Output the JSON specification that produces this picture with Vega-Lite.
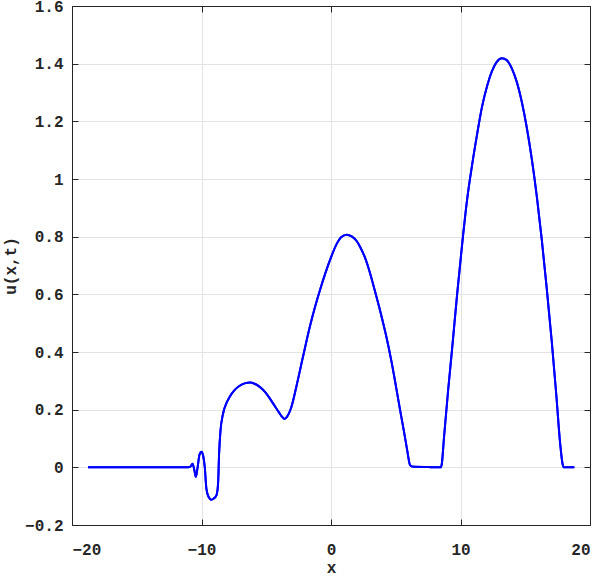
{
  "$schema": "https://vega.github.io/schema/vega-lite/v6.json",
  "width": 518,
  "height": 519,
  "autosize": {"type": "none"},
  "padding": {"left": 72, "top": 6, "right": 8, "bottom": 52},
  "background": "white",
  "config": {
    "view": {"stroke": "#262626", "strokeWidth": 1},
    "axis": {
      "labelFont": "Liberation Mono",
      "labelFontWeight": "bold",
      "labelFontSize": 16,
      "labelColor": "#262626",
      "titleFont": "Liberation Mono",
      "titleFontWeight": "bold",
      "titleFontSize": 16,
      "titleColor": "#262626",
      "domainColor": "#262626",
      "tickColor": "#262626",
      "tickSize": -6,
      "gridColor": "#e3e3e3",
      "gridWidth": 1
    }
  },
  "data": {"values": [
    {"x": -18.76, "u": 0},
    {"x": -15.0, "u": 0},
    {"x": -11.67, "u": 0},
    {"x": -11.03, "u": 0},
    {"x": -10.85, "u": 0.003},
    {"x": -10.69, "u": 0.012},
    {"x": -10.55, "u": -0.01},
    {"x": -10.44, "u": -0.033},
    {"x": -10.3, "u": 0.0},
    {"x": -10.15, "u": 0.045},
    {"x": -10.0, "u": 0.054},
    {"x": -9.87, "u": 0.04},
    {"x": -9.75, "u": 0.002},
    {"x": -9.62, "u": -0.075},
    {"x": -9.45, "u": -0.103},
    {"x": -9.25, "u": -0.112},
    {"x": -9.05, "u": -0.108},
    {"x": -8.84, "u": -0.096},
    {"x": -8.72, "u": -0.056},
    {"x": -8.64, "u": 0.049},
    {"x": -8.54, "u": 0.124},
    {"x": -8.34, "u": 0.185},
    {"x": -8.05, "u": 0.225},
    {"x": -7.82, "u": 0.245},
    {"x": -7.45, "u": 0.268},
    {"x": -7.05, "u": 0.283},
    {"x": -6.6, "u": 0.292},
    {"x": -6.28, "u": 0.294},
    {"x": -5.9, "u": 0.29},
    {"x": -5.5, "u": 0.279},
    {"x": -5.1, "u": 0.262},
    {"x": -4.74, "u": 0.24},
    {"x": -4.35, "u": 0.213},
    {"x": -3.98, "u": 0.188},
    {"x": -3.75, "u": 0.174},
    {"x": -3.6, "u": 0.168},
    {"x": -3.4, "u": 0.175},
    {"x": -3.09, "u": 0.205},
    {"x": -2.65, "u": 0.285},
    {"x": -2.19, "u": 0.378},
    {"x": -1.62, "u": 0.49},
    {"x": -1.24, "u": 0.555},
    {"x": -0.85, "u": 0.615},
    {"x": -0.46, "u": 0.67},
    {"x": 0.0, "u": 0.728},
    {"x": 0.44, "u": 0.775},
    {"x": 0.8, "u": 0.799},
    {"x": 1.21, "u": 0.807},
    {"x": 1.6, "u": 0.801},
    {"x": 1.98, "u": 0.785},
    {"x": 2.3, "u": 0.76},
    {"x": 2.62, "u": 0.728},
    {"x": 3.0, "u": 0.676},
    {"x": 3.39, "u": 0.612},
    {"x": 3.85, "u": 0.533},
    {"x": 4.25, "u": 0.458},
    {"x": 4.65, "u": 0.372},
    {"x": 5.02, "u": 0.28},
    {"x": 5.35, "u": 0.195},
    {"x": 5.66, "u": 0.118},
    {"x": 5.9, "u": 0.055},
    {"x": 6.1, "u": 0.008},
    {"x": 6.25, "u": 0.003},
    {"x": 7.5, "u": 0.001},
    {"x": 8.46, "u": 0.0},
    {"x": 8.55, "u": 0.01},
    {"x": 8.72, "u": 0.1},
    {"x": 9.05, "u": 0.27},
    {"x": 9.36, "u": 0.415},
    {"x": 9.75, "u": 0.605},
    {"x": 10.13, "u": 0.775},
    {"x": 10.5, "u": 0.925},
    {"x": 10.9, "u": 1.05},
    {"x": 11.3, "u": 1.16},
    {"x": 11.66, "u": 1.25},
    {"x": 12.05, "u": 1.322},
    {"x": 12.43, "u": 1.374},
    {"x": 12.8, "u": 1.406},
    {"x": 13.2, "u": 1.419},
    {"x": 13.55, "u": 1.413},
    {"x": 13.97, "u": 1.383},
    {"x": 14.35, "u": 1.336},
    {"x": 14.74, "u": 1.266},
    {"x": 15.1, "u": 1.183},
    {"x": 15.51, "u": 1.068},
    {"x": 15.9, "u": 0.937},
    {"x": 16.28, "u": 0.788},
    {"x": 16.65, "u": 0.625},
    {"x": 17.05, "u": 0.435},
    {"x": 17.4, "u": 0.25},
    {"x": 17.69, "u": 0.085},
    {"x": 17.9, "u": 0.008},
    {"x": 17.98, "u": 0.0},
    {"x": 18.79, "u": 0.0}
  ]},
  "layer": [
    {
      "mark": {"type": "line", "color": "#0000ff", "strokeWidth": 2, "interpolate": "monotone"},
      "encoding": {
        "x": {"field": "x", "type": "quantitative",
              "scale": {"domain": [-20, 20], "nice": false},
              "axis": {"orient": "bottom", "values": [-20, -10, 0, 10, 20], "title": "x", "labelPadding": 22, "titlePadding": 2, "grid": true}},
        "y": {"field": "u", "type": "quantitative",
              "scale": {"domain": [-0.2, 1.6], "nice": false, "zero": false},
              "axis": {"orient": "left", "format": "~g", "values": [-0.2, 0, 0.2, 0.4, 0.6, 0.8, 1, 1.2, 1.4, 1.6], "title": "u(x,t)", "labelPadding": 15, "titlePadding": 6, "grid": true}}
      }
    },
    {
      "mark": {"type": "line", "color": "#0000ff", "strokeWidth": 2, "interpolate": "monotone"},
      "encoding": {
        "x": {"field": "x", "type": "quantitative",
              "scale": {"domain": [-20, 20], "nice": false},
              "axis": {"orient": "top", "values": [-20, -10, 0, 10, 20], "title": null, "labels": false, "grid": false}},
        "y": {"field": "u", "type": "quantitative",
              "scale": {"domain": [-0.2, 1.6], "nice": false, "zero": false},
              "axis": {"orient": "right", "values": [-0.2, 0, 0.2, 0.4, 0.6, 0.8, 1, 1.2, 1.4, 1.6], "title": null, "labels": false, "grid": false}}
      }
    }
  ],
  "resolve": {"axis": {"x": "independent", "y": "independent"}}
}
